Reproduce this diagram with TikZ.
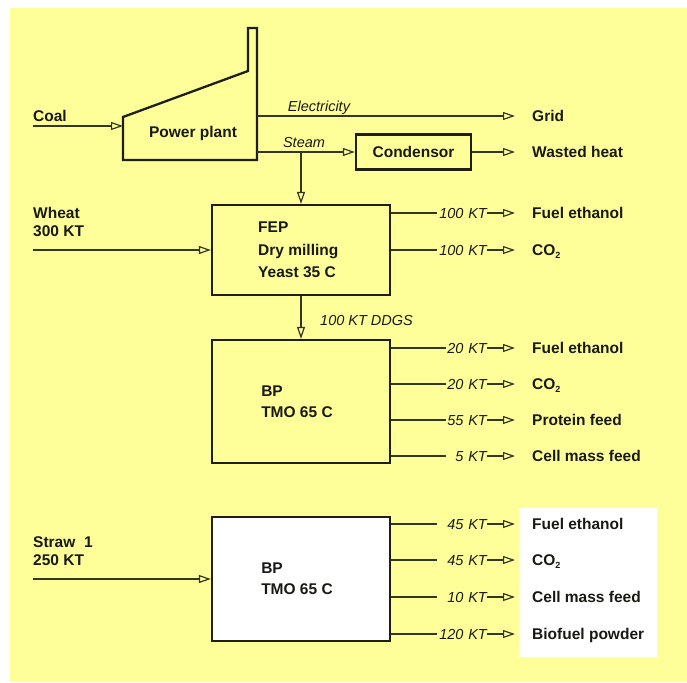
\documentclass[tikz,border=0pt]{standalone}
\usepackage{fontspec}
\setmainfont{Liberation Sans}
\usetikzlibrary{arrows.meta,calc}
\definecolor{bgy}{RGB}{255,255,153}
\definecolor{linec}{RGB}{50,55,35}
\definecolor{boxc}{RGB}{30,30,18}
\definecolor{txtc}{RGB}{25,25,20}
\newcommand{\cotwo}{CO\raisebox{-0.35ex}{\fontsize{9}{9}\selectfont 2}}
\begin{document}
\begin{tikzpicture}[x=1pt,y=-1pt,
  every node/.style={text=txtc},
  lbl/.style={font=\bfseries\fontsize{15.5}{18}\selectfont, inner sep=0pt, anchor=west, text height=11pt, text depth=0pt},
  lbltwo/.style={font=\bfseries\fontsize{15.5}{18}\selectfont, inner sep=0pt, align=left, anchor=base west},
  flowt/.style={font=\itshape\fontsize{14.5}{16}\selectfont, inner sep=0pt, text height=10pt, text depth=0pt},
  flowq/.style={font=\itshape\fontsize{14.5}{16}\selectfont, inner sep=0pt, text height=10pt, text depth=0pt, text width=#1, align=right, anchor=east},
  box/.style={draw=boxc, line width=2.3pt, inner sep=0pt, align=left},
  boxtext/.style={font=\bfseries\fontsize{15.5}{#1}\selectfont},
  ln/.style={draw=linec, line width=1.2pt},
  arr/.style={draw=linec, line width=1.2pt, -{Triangle[open,length=12pt,width=8pt]}},
  arrt/.style={arr, shorten >=17pt}
]
\useasboundingbox (0,0) rectangle (687,682);
\fill[white] (0,0) rectangle (687,682);
\fill[bgy] (10,8) rectangle (687,682);
\fill[white] (519,508) rectangle (657,657);

% power plant
\draw[boxc, line width=2.3pt, line join=miter] (123,160) -- (123,117) -- (248,71) -- (248,28) -- (257,28) -- (257,160) -- cycle;
\node[font=\bfseries\fontsize{15.5}{18}\selectfont, inner sep=0pt] (pp) at (193,133) {Power plant};
\coordinate (ppin) at (123,126);
\coordinate (ppel) at (257,116);
\coordinate (ppst) at (257,152);

\node[lbl] (coal) at (33,116) {Coal};
\draw[arr] (coal.west |- ppin) -- (ppin);

\node[lbl] (grid) at (532,116) {Grid};
\draw[arrt] (ppel) -- (grid.west);
\node[flowt] (elec) at (319,106) {Electricity};

\node[box, boxtext=18, minimum width=115pt, minimum height=35pt, align=center] (cond) at (413.5,152) {Condensor};
\draw[arr] (ppst) -- (cond.west);
\node[flowt] (steam) at (304,142) {Steam};
\node[lbl] (waste) at (532,152) {Wasted heat};
\draw[arrt] (cond.east) -- (waste.west);

% FEP
\node[box, boxtext=22.5, minimum width=178pt, minimum height=90pt] (fep) at (301,250) {FEP\\Dry milling\\Yeast 35 C\hspace*{8pt}};
\coordinate (stj) at (fep.north |- ppst);
\draw[arr] (stj) -- (fep.north);

\node[lbltwo] (wheat) at (33,236.5) {Wheat\\300 KT};
\draw[arr] (wheat.west |- fep.west) -- (fep.west);

\foreach \yy/\q/\t/\n in {213/100 KT/Fuel ethanol/a1, 250/100 KT/\cotwo/a2}{
  \node[flowq=50pt] (q\n) at (487,\yy) {\q};
  \node[lbl] (t\n) at (532,\yy) {\t};
  \draw[ln] (fep.east |- q\n.west) -- (q\n.west);
  \draw[arrt] (q\n.east) -- (t\n.west);
}

% BP 1
\node[box, boxtext=21, minimum width=178pt, minimum height=123pt] (bp1) at (301,401.5) {BP\\TMO 65 C\hspace*{8pt}};
\draw[arr] (fep.south) -- (bp1.north);
\node[flowt, anchor=west] (ddgs) at (320,320) {100 KT DDGS};

\foreach \yy/\q/\t/\n in {348/20 KT/Fuel ethanol/b1, 384/20 KT/\cotwo/b2, 420/55 KT/Protein feed/b3, 456/5 KT/Cell mass feed/b4}{
  \node[flowq=41pt] (q\n) at (487,\yy) {\q};
  \node[lbl] (t\n) at (532,\yy) {\t};
  \draw[ln] (bp1.east |- q\n.west) -- (q\n.west);
  \draw[arrt] (q\n.east) -- (t\n.west);
}

% BP 2
\node[box, boxtext=21, fill=white, minimum width=178pt, minimum height=124pt] (bp2) at (301,579) {BP\\TMO 65 C\hspace*{8pt}};
\node[lbltwo] (straw) at (33,565.5) {Straw\ \ 1\\250 KT};
\draw[arr] (straw.west |- bp2.west) -- (bp2.west);

\foreach \yy/\q/\t/\n in {524/45 KT/Fuel ethanol/c1, 560/45 KT/\cotwo/c2, 597/10 KT/Cell mass feed/c3, 634/120 KT/Biofuel powder/c4}{
  \node[flowq=50pt] (q\n) at (487,\yy) {\q};
  \node[lbl] (t\n) at (532,\yy) {\t};
  \draw[ln] (bp2.east |- q\n.west) -- (q\n.west);
  \draw[arrt] (q\n.east) -- (t\n.west);
}
\end{tikzpicture}
\end{document}
